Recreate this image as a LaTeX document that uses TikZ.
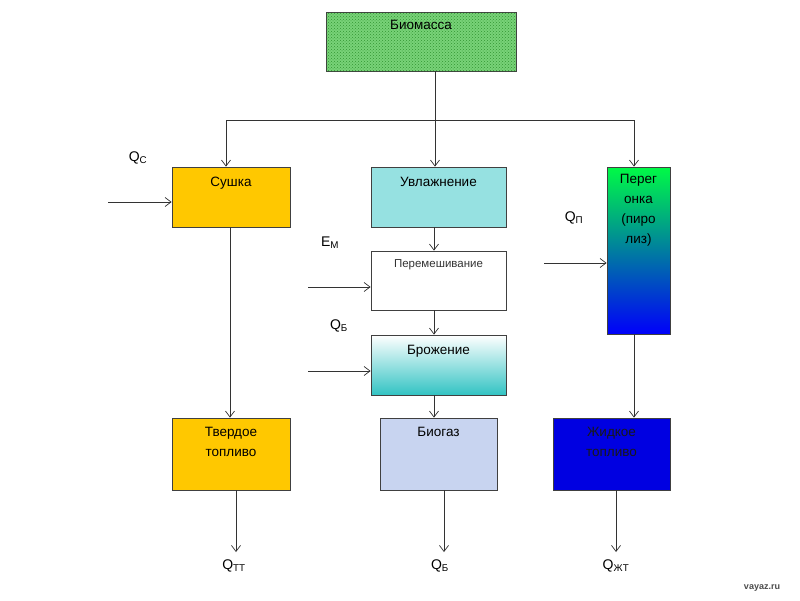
\documentclass[tikz,border=0pt]{standalone}
\usepackage{fontspec}
\setmainfont{Liberation Sans}
\usetikzlibrary{arrows.meta,patterns,calc}
\definecolor{biog}{RGB}{120,210,120}
\definecolor{biod}{RGB}{50,150,50}
\definecolor{gold}{RGB}{255,200,0}
\definecolor{aqua}{RGB}{150,225,225}
\definecolor{teal2}{RGB}{50,195,195}
\definecolor{grn}{RGB}{0,250,70}
\definecolor{blu}{RGB}{0,0,250}
\definecolor{lav}{RGB}{200,212,240}
\definecolor{dblue}{RGB}{0,0,225}
\tikzset{
  box/.style={draw=black!75, line width=0.8pt, rectangle, inner sep=0pt},
  ttl/.style={font=\fontsize{13.5}{15}\selectfont, align=center},
  arr/.style={draw=black!80, line width=0.7pt, -{Straight Barb[length=6pt,width=9pt]}},
  ln/.style={draw=black!80, line width=0.7pt},
  qlab/.style={font=\fontsize{14}{16}\selectfont}
}
\begin{document}
\begin{tikzpicture}[x=1pt,y=-1pt]
\useasboundingbox (0,0) rectangle (800,600);
\fill[white] (0,0) rectangle (800,600);
% boxes
\node[box, fill=biog, postaction={pattern=crosshatch dots, pattern color=biod}, minimum width=190pt, minimum height=59pt] (bio) at (421,41.5) {};
\node[ttl, anchor=north] (bioT) at (421,17) {Биомасса};

\node[box, fill=gold, minimum width=118pt, minimum height=60pt] (sush) at (231,197) {};
\node[ttl, anchor=north] (sushT) at (231,173.5) {Сушка};

\node[box, fill=aqua, minimum width=135pt, minimum height=60pt] (uvl) at (438.5,197) {};
\node[ttl, anchor=north] (uvlT) at (438.5,173.5) {Увлажнение};

\node[box, fill=white, minimum width=135pt, minimum height=59pt] (perem) at (438.5,280.5) {};
\node[anchor=north, font=\fontsize{11.5}{13}\selectfont, text=black!80] (peremT) at (438.5,256) {Перемешивание};

\node[box, top color=white, bottom color=teal2, minimum width=135pt, minimum height=60pt] (brozh) at (438.5,365) {};
\node[ttl, anchor=north] (brozhT) at (438.5,341.5) {Брожение};

\node[box, top color=grn, bottom color=blu, minimum width=63pt, minimum height=167pt] (pereg) at (638.5,250.5) {};
\node[ttl, anchor=north, font=\fontsize{13.5}{20}\selectfont] (peregT) at (638.5,171) {Перег\\онка\\(пиро\\лиз)};

\node[box, fill=gold, minimum width=118pt, minimum height=72pt] (tverd) at (231,454) {};
\node[ttl, anchor=north, font=\fontsize{13.5}{20}\selectfont] (tverdT) at (231,423.5) {Твердое\\топливо};

\node[box, fill=lav, minimum width=117pt, minimum height=72pt] (biogaz) at (438.5,454) {};
\node[ttl, anchor=north] (biogazT) at (438.5,423.5) {Биогаз};

\node[box, fill=dblue, minimum width=117pt, minimum height=72pt] (zhid) at (611.5,454) {};
\node[ttl, anchor=north, font=\fontsize{13.5}{20}\selectfont, text=black!90] (zhidT) at (611.5,423.5) {Жидкое\\топливо};

% distribution from biomass
\coordinate (j0) at (435,120);
\coordinate (jl) at (226,120);
\coordinate (jr) at (634,120);
\draw[ln] (bio.south -| j0) -- (j0);
\draw[ln] (jl) -- (jr);
\draw[arr] (jl) -- (jl |- sush.north);
\draw[arr] (j0) -- (j0 |- uvl.north);
\draw[arr] (jr) -- (jr |- pereg.north);

% chain
\coordinate (cx) at (434,0);
\draw[arr] (cx |- uvl.south) -- (cx |- perem.north);
\draw[arr] (cx |- perem.south) -- (cx |- brozh.north);
\draw[arr] (cx |- brozh.south) -- (cx |- biogaz.north);
\coordinate (sx) at (230,0);
\draw[arr] (sx |- sush.south) -- (sx |- tverd.north);
\draw[arr] (jr |- pereg.south) -- (jr |- zhid.north);

% inputs
\coordinate (in1) at (108,202);
\coordinate (in2) at (308,287);
\coordinate (in3) at (308,371);
\coordinate (in4) at (544,263);
\draw[arr] (in1) -- (in1 -| sush.west);
\draw[arr] (in2) -- (in2 -| perem.west);
\draw[arr] (in3) -- (in3 -| brozh.west);
\draw[arr] (in4) -- (in4 -| pereg.west);

% outputs
\coordinate (o1) at (236,552);
\coordinate (o2) at (444,552);
\coordinate (o3) at (616,552);
\draw[arr] (o1 |- tverd.south) -- (o1);
\draw[arr] (o2 |- biogaz.south) -- (o2);
\draw[arr] (o3 |- zhid.south) -- (o3);

% labels
\node[qlab] (qc) at (138,158) {Q\textsubscript{С}};
\node[qlab] (em) at (330,243) {E\textsubscript{М}};
\node[qlab] (qb) at (339,326) {Q\textsubscript{Б}};
\node[qlab] (qp) at (574,218) {Q\textsubscript{П}};
\node[qlab] (qtt) at (234,566) {Q\textsubscript{ТТ}};
\node[qlab] (qbb) at (440,566) {Q\textsubscript{Б}};
\node[qlab] (qzt) at (616,566) {Q\textsubscript{ЖТ}};

\node[font=\fontsize{9}{10}\selectfont\bfseries, text=black!70] (wm) at (762,588) {vayaz.ru};
\end{tikzpicture}
\end{document}
